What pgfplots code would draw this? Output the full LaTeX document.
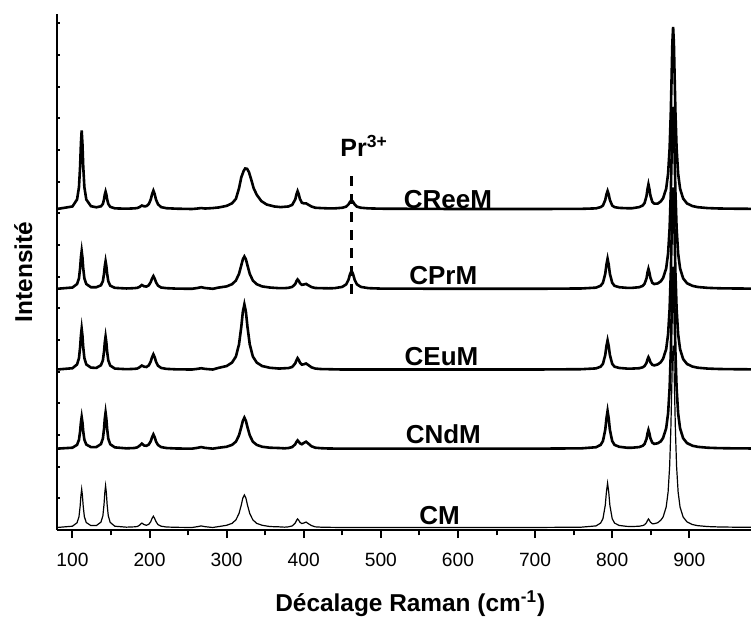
\documentclass[border=0pt]{standalone}
\usepackage{fontspec}
\setmainfont{Liberation Sans}
\usepackage{pgfplots}
\pgfplotsset{compat=1.18}
\usetikzlibrary{calc}

\begin{document}
\begin{tikzpicture}
\begin{axis}[
  scale only axis,
  width=347pt, height=258pt,
  xmin=80, xmax=980,
  ymin=0, ymax=16.3,
  axis x line*=bottom,
  axis y line*=left,
  axis line style={line width=1.4pt},
  xtick={100,200,...,900},
  minor x tick num=1,
  xtick align=outside,
  major tick length=4pt,
  minor tick length=2.7pt,
  ytick=\empty,
  extra y ticks={1,2,...,16},
  extra y tick labels={},
  extra y tick style={major tick length=1.6pt, tick align=inside},
  tick style={line width=1pt, black},
  /pgf/number format/assume math mode=true,
  xticklabel style={font=\fontsize{9.6}{11}\selectfont},
  xticklabel shift=4pt,
  xlabel={Décalage Raman (cm\textsuperscript{-1})},
  ylabel={Intensité},
  xlabel style={font=\fontsize{12.2}{14}\selectfont\bfseries, at={(rel axis cs:0.509,-0.157)}, anchor=base},
  ylabel style={font=\fontsize{12.2}{14}\selectfont\bfseries, at={(rel axis cs:-0.036,0.5)}, anchor=base},
  clip=true,
]

% CM (thin)
\addplot[black, line width=0.6pt] coordinates {
(80,0.08) (100,0.12) (106,0.23) (108.5,0.42) (110,0.75) (111,1.08) (112,1.29) (113,1.08) (114,0.75) (115.5,0.42) (118,0.235) (124,0.14)
(131,0.14) (137,0.25) (139.5,0.45) (141,0.81) (142,1.18) (143,1.40) (144,1.18) (145,0.81) (146.5,0.45) (149,0.24) (155,0.12)
(170,0.09) (180,0.10) (184,0.11) (187,0.15) (190,0.22) (193,0.17) (196,0.15) (199,0.18) (201.5,0.26) (203.3,0.37) (205,0.435) (206.7,0.36) (208.5,0.26) (211,0.17) (215,0.12) (222,0.095) (235,0.085)
(255,0.08) (262,0.105) (267,0.13) (272,0.105) (282,0.08)
(290,0.11) (300,0.15) (307,0.21) (312,0.32) (316,0.52) (319,0.79) (321,1.01) (323,1.11) (325,1.01) (327,0.79) (330,0.52) (334,0.32) (339,0.21) (346,0.15) (356,0.11) (368,0.10)
(375,0.09) (380,0.10) (385,0.13) (389,0.22) (390.5,0.30) (392,0.35) (393.5,0.31) (395,0.245) (397.5,0.205) (400,0.22) (403,0.25) (406,0.20) (410,0.14) (415,0.10) (422,0.09) (432,0.085)
(450,0.08) (500,0.08) (600,0.08) (700,0.08) (760,0.09)
(779,0.13) (785,0.22) (788,0.36) (791,0.78) (792.5,1.20) (794,1.48) (795.5,1.20) (797,0.78) (800,0.36) (803,0.22) (809,0.145) (819,0.115) (826,0.11)
(835,0.12) (839.5,0.14) (842,0.165) (844.5,0.235) (845.8,0.30) (847,0.35) (848.2,0.31) (849.5,0.25) (852,0.20) (854.5,0.20) (859,0.23) (863,0.31) (866,0.41)
(870,0.725) (872.5,1.20) (874.5,2.01) (876,3.14) (877,4.21) (878,5.32) (879,5.83) (880,5.32) (881,4.21) (882,3.14) (883.5,2.01) (885.5,1.20) (888,0.725)
(892,0.41) (897,0.256) (904,0.173) (911,0.137) (924,0.109) (939,0.096) (960,0.089) (980,0.086)
};

% CNdM
\addplot[black, line width=1.3pt] coordinates {
(80,2.57) (100,2.60) (106,2.69) (108.5,2.85) (110,3.12) (111,3.40) (112,3.57) (113,3.40) (114,3.12) (115.5,2.85) (118,2.70) (124,2.62)
(131,2.62) (137,2.715) (139.5,2.89) (141,3.20) (142,3.52) (143,3.71) (144,3.52) (145,3.20) (146.5,2.89) (149,2.71) (155,2.61)
(170,2.58) (180,2.59) (184,2.61) (187,2.66) (190,2.73) (193,2.67) (196,2.66) (199,2.70) (201.5,2.80) (203.3,2.93) (205,3.02) (206.7,2.93) (208.5,2.79) (211,2.685) (215,2.62) (222,2.59) (235,2.575)
(255,2.57) (262,2.595) (267,2.62) (272,2.595) (282,2.57)
(290,2.60) (300,2.63) (307,2.69) (312,2.79) (316,2.99) (319,3.25) (321,3.45) (323,3.55) (325,3.45) (327,3.25) (330,2.99) (334,2.79) (339,2.69) (346,2.63) (356,2.60) (368,2.59)
(375,2.58) (380,2.59) (385,2.62) (389,2.71) (390.5,2.78) (392,2.83) (393.5,2.79) (395,2.74) (397.5,2.71) (400,2.75) (403,2.79) (406,2.73) (410,2.645) (415,2.60) (422,2.585) (432,2.575)
(450,2.57) (500,2.57) (600,2.57) (700,2.57) (760,2.58)
(779,2.615) (785,2.69) (788,2.81) (791,3.165) (792.5,3.52) (794,3.76) (795.5,3.52) (797,3.165) (800,2.81) (803,2.69) (809,2.63) (819,2.60) (826,2.60)
(835,2.62) (839.5,2.66) (842,2.72) (844.5,2.88) (845.8,3.05) (847,3.16) (848.2,3.06) (849.5,2.90) (852,2.76) (854.5,2.72) (859,2.74) (863,2.80) (866,2.91)
(870,3.215) (872.5,3.69) (874.5,4.50) (876,5.63) (877,6.70) (878,7.81) (879,8.32) (880,7.81) (881,6.70) (882,5.63) (883.5,4.50) (885.5,3.69) (888,3.215)
(892,2.90) (897,2.746) (904,2.663) (911,2.627) (924,2.599) (939,2.586) (960,2.579) (980,2.576)
};

% CEuM
\addplot[black, line width=1.3pt] coordinates {
(80,5.07) (100,5.11) (106,5.23) (108.5,5.43) (110,5.78) (111,6.14) (112,6.36) (113,6.14) (114,5.78) (115.5,5.43) (118,5.23) (124,5.13)
(131,5.12) (137,5.205) (139.5,5.36) (141,5.64) (142,5.93) (143,6.11) (144,5.93) (145,5.64) (146.5,5.36) (149,5.195) (155,5.10)
(170,5.08) (180,5.09) (184,5.10) (187,5.14) (190,5.195) (193,5.16) (196,5.15) (199,5.20) (201.5,5.32) (203.3,5.46) (205,5.55) (206.7,5.46) (208.5,5.31) (211,5.19) (215,5.12) (222,5.09) (235,5.075)
(255,5.07) (262,5.09) (267,5.11) (272,5.09) (282,5.07)
(290,5.125) (300,5.18) (307,5.29) (312,5.48) (316,5.86) (319,6.42) (321,6.89) (323,7.13) (325,6.89) (327,6.42) (330,5.86) (334,5.48) (339,5.29) (346,5.18) (356,5.125) (368,5.10)
(375,5.11) (380,5.115) (385,5.15) (389,5.265) (390.5,5.36) (392,5.43) (393.5,5.375) (395,5.29) (397.5,5.225) (400,5.235) (403,5.26) (406,5.21) (410,5.14) (415,5.10) (422,5.085) (432,5.08)
(450,5.07) (500,5.07) (600,5.07) (700,5.07) (760,5.08)
(779,5.105) (785,5.16) (788,5.25) (791,5.53) (792.5,5.81) (794,5.99) (795.5,5.81) (797,5.53) (800,5.25) (803,5.16) (809,5.12) (819,5.10) (826,5.10)
(835,5.11) (839.5,5.14) (842,5.18) (844.5,5.28) (845.8,5.39) (847,5.46) (848.2,5.40) (849.5,5.30) (852,5.22) (854.5,5.20) (859,5.23) (863,5.30) (866,5.41)
(870,5.715) (872.5,6.19) (874.5,7.00) (876,8.13) (877,9.20) (878,10.31) (879,10.82) (880,10.31) (881,9.20) (882,8.13) (883.5,7.00) (885.5,6.19) (888,5.715)
(892,5.40) (897,5.246) (904,5.163) (911,5.127) (924,5.099) (939,5.086) (960,5.079) (980,5.076)
};

% CPrM
\addplot[black, line width=1.3pt] coordinates {
(80,7.62) (100,7.66) (106,7.77) (108.5,7.95) (110,8.275) (111,8.61) (112,8.81) (113,8.61) (114,8.275) (115.5,7.95) (118,7.77) (124,7.67)
(131,7.67) (137,7.73) (139.5,7.86) (141,8.10) (142,8.34) (143,8.49) (144,8.34) (145,8.10) (146.5,7.86) (149,7.72) (155,7.65)
(170,7.63) (180,7.64) (184,7.65) (187,7.68) (190,7.74) (193,7.70) (196,7.69) (199,7.73) (201.5,7.83) (203.3,7.945) (205,8.02) (206.7,7.94) (208.5,7.82) (211,7.72) (215,7.66) (222,7.64) (235,7.625)
(255,7.62) (262,7.645) (267,7.67) (272,7.645) (282,7.62)
(290,7.66) (300,7.695) (307,7.765) (312,7.88) (316,8.09) (319,8.36) (321,8.55) (323,8.64) (325,8.55) (327,8.36) (330,8.09) (334,7.88) (339,7.765) (346,7.695) (356,7.66) (368,7.64)
(375,7.64) (380,7.65) (385,7.68) (389,7.77) (390.5,7.86) (392,7.915) (393.5,7.87) (395,7.80) (397.5,7.745) (400,7.755) (403,7.775) (406,7.73) (410,7.675) (415,7.645) (422,7.64) (432,7.635)
(440,7.64) (450,7.68) (455,7.76) (458,7.905) (460,8.08) (462,8.19) (464,8.08) (466,7.905) (469,7.76) (474,7.68) (484,7.64) (500,7.626)
(600,7.62) (700,7.62) (760,7.63)
(779,7.656) (785,7.715) (788,7.81) (791,8.095) (792.5,8.38) (794,8.57) (795.5,8.38) (797,8.095) (800,7.81) (803,7.715) (809,7.67) (819,7.65) (826,7.65)
(835,7.67) (839.5,7.71) (842,7.78) (844.5,7.95) (845.8,8.135) (847,8.25) (848.2,8.14) (849.5,7.97) (852,7.81) (854.5,7.77) (859,7.79) (863,7.855) (866,7.96)
(870,8.265) (872.5,8.74) (874.5,9.55) (876,10.68) (877,11.75) (878,12.86) (879,13.37) (880,12.86) (881,11.75) (882,10.68) (883.5,9.55) (885.5,8.74) (888,8.265)
(892,7.95) (897,7.796) (904,7.713) (911,7.677) (924,7.649) (939,7.636) (960,7.629) (980,7.626)
};

% CReeM
\addplot[black, line width=1.3pt] coordinates {
(80,10.14) (100,10.22) (106,10.44) (108.5,10.83) (110,11.50) (111,12.20) (112,12.62) (113,12.20) (114,11.50) (115.5,10.83) (118,10.44) (124,10.23)
(131,10.195) (137,10.225) (139.5,10.30) (141,10.45) (142,10.60) (143,10.69) (144,10.60) (145,10.45) (146.5,10.30) (149,10.21) (155,10.16)
(170,10.15) (180,10.16) (184,10.17) (187,10.20) (190,10.25) (193,10.225) (196,10.23) (199,10.295) (201.5,10.435) (203.3,10.61) (205,10.72) (206.7,10.61) (208.5,10.43) (211,10.29) (215,10.20) (222,10.165) (235,10.15)
(255,10.14) (262,10.155) (267,10.17) (272,10.155) (282,10.17)
(290,10.19) (300,10.24) (307,10.32) (312,10.46) (316,10.79) (319,11.14) (322,11.34) (324,11.42) (326.5,11.41) (329,11.30) (332,11.06) (335,10.80) (339,10.59) (345,10.39) (352,10.28) (362,10.22) (370,10.20)
(375,10.21) (380,10.22) (385,10.27) (389,10.445) (390.5,10.60) (392,10.705) (393.5,10.61) (395,10.46) (397.5,10.34) (400,10.32) (403,10.32) (406,10.275) (410,10.22) (415,10.18) (422,10.17) (432,10.16)
(440,10.16) (450,10.18) (455,10.215) (458,10.285) (460,10.365) (462,10.42) (464,10.365) (466,10.285) (469,10.215) (474,10.18) (484,10.16) (500,10.15)
(600,10.14) (700,10.14) (760,10.145)
(779,10.16) (785,10.20) (788,10.25) (791,10.425) (792.5,10.60) (794,10.71) (795.5,10.60) (797,10.425) (800,10.25) (803,10.20) (809,10.175) (819,10.165) (826,10.165)
(835,10.20) (839.5,10.25) (842,10.33) (844.5,10.55) (845.8,10.775) (847,10.92) (848.2,10.78) (849.5,10.57) (852,10.365) (854.5,10.31) (859,10.31) (863,10.38) (866,10.48)
(870,10.785) (872.5,11.26) (874.5,12.07) (876,13.20) (877,14.27) (878,15.38) (879,15.89) (880,15.38) (881,14.27) (882,13.20) (883.5,12.07) (885.5,11.26) (888,10.785)
(892,10.47) (897,10.316) (904,10.233) (911,10.197) (924,10.169) (939,10.156) (960,10.149) (980,10.146)
};

% Pr3+ marker
\addplot[black, line width=1.2pt, dash pattern=on 5pt off 4pt] coordinates {(462,11.17) (462,7.38)};

\node[font=\fontsize{12.5}{14}\selectfont\bfseries, anchor=base west, inner sep=0pt] at (axis cs:447,11.8) {Pr\textsuperscript{3+}};

\node[font=\fontsize{13}{15}\selectfont\bfseries, anchor=base, inner sep=0pt] at (axis cs:587,10.17) {CReeM};
\node[font=\fontsize{13}{15}\selectfont\bfseries, anchor=base, inner sep=0pt] at (axis cs:581,7.75) {CPrM};
\node[font=\fontsize{13}{15}\selectfont\bfseries, anchor=base, inner sep=0pt] at (axis cs:578.6,5.21) {CEuM};
\node[font=\fontsize{13}{15}\selectfont\bfseries, anchor=base, inner sep=0pt] at (axis cs:581,2.73) {CNdM};
\node[font=\fontsize{13}{15}\selectfont\bfseries, anchor=base, inner sep=0pt] at (axis cs:576,0.18) {CM};

\coordinate (ll) at (rel axis cs:0,0);
\coordinate (ur) at (rel axis cs:1,1);
\end{axis}
\pgfresetboundingbox
\path ($(ll)+(-28.5pt,-43.5pt)$) rectangle ($(ur)+(0pt,7pt)$);
\end{tikzpicture}
\end{document}
